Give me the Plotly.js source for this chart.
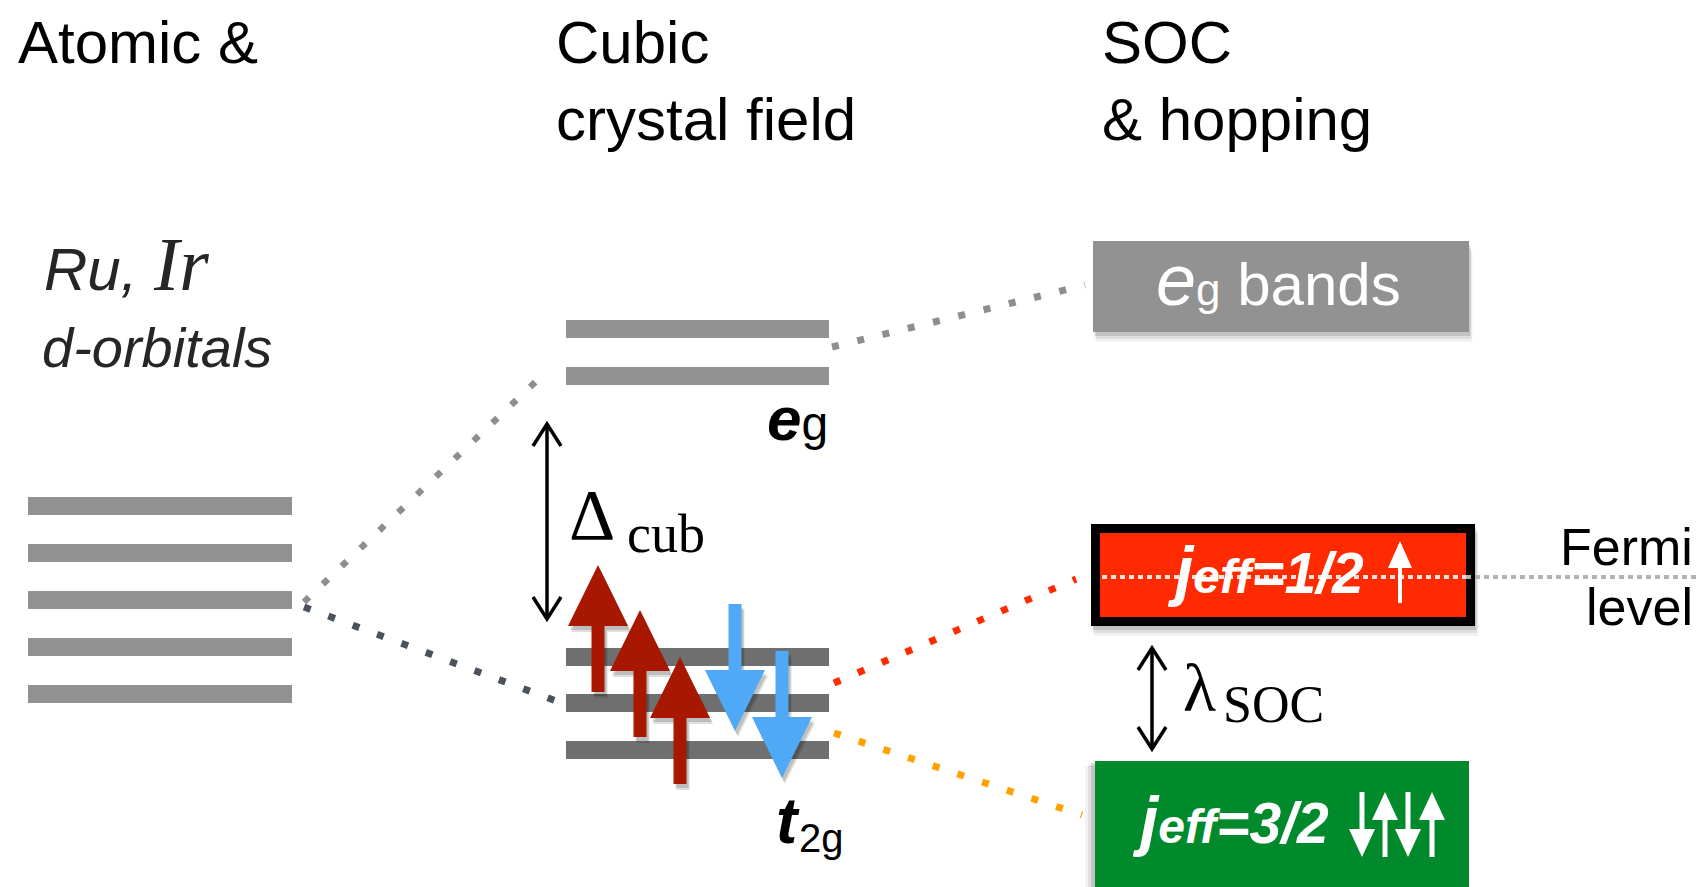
<!DOCTYPE html>
<html>
<head>
<meta charset="utf-8">
<script src="https://cdn.plot.ly/plotly-3.0.1.min.js"></script>
<style>html,body{margin:0;padding:0;background:#fff;overflow:hidden;}</style>
</head>
<body>
<div id="chart" style="width:1698px;height:887px;"></div>
<script>
// ---------------- diagram values ----------------
const atomicLevels = [506, 553, 600, 647, 694];   // five d levels
const egLevels = [329, 376];                       // e_g doublet
const t2gLevels = [657, 703, 750];                 // t_2g triplet
const spinUpX = [598, 640, 680];                   // three spin-up electrons
const spinUpTip = [565, 610, 657];
const spinDownX = [735, 782];                      // two spin-down electrons
const spinDownTop = [604, 651];
const jeff32Spins = ['down', 'up', 'down', 'up'];
const jeff32SpinX = [1362, 1385, 1408, 1432];
const columnTitles = [['Atomic &'], ['Cubic', 'crystal field'], ['SOC', '& hopping']];
const columnTitleX = [17, 555, 1101];

// ---------------- styling / layout constants ----------------
const W = 1698, H = 887;
const SANS = '"Liberation Sans", Arial, Helvetica, sans-serif';
const SERIF = '"Liberation Serif", "Times New Roman", serif';
const LEVEL_HALF = 9;
const atomicSpan = [28, 292];
const cubicSpan = [566, 829];
const DOT = '7px,19px';

const shapes = [];
const annotations = [];

function rect(x0, x1, y0, y1, fill, extra) {
  shapes.push(Object.assign({type: 'rect', xref: 'x', yref: 'y', x0, x1, y0, y1,
    fillcolor: fill, line: {width: 0}}, extra || {}));
}
function seg(x0, y0, x1, y1, color, width, dash) {
  shapes.push({type: 'line', xref: 'x', yref: 'y', x0, y0, x1, y1,
    line: {color, width, dash: dash || 'solid'}});
}
function path(d, fill, lineColor, lineWidth) {
  shapes.push({type: 'path', xref: 'x', yref: 'y', path: d,
    fillcolor: fill || 'rgba(0,0,0,0)',
    line: {color: lineColor || 'rgba(0,0,0,0)', width: lineWidth || 0}});
}
function upArrow(cx, tip, len, head, hw, sw) {
  const base = tip + head, tail = tip + len;
  return `M${cx - sw},${tail} L${cx - sw},${base} L${cx - hw},${base} L${cx},${tip} L${cx + hw},${base} L${cx + sw},${base} L${cx + sw},${tail} Z`;
}
function downArrow(cx, top, len, head, hw, sw) {
  const tip = top + len, base = tip - head;
  return `M${cx - sw},${top} L${cx - sw},${base} L${cx - hw},${base} L${cx},${tip} L${cx + hw},${base} L${cx + sw},${base} L${cx + sw},${top} Z`;
}
function doubleArrow(cx, top, bottom) {
  seg(cx, top + 2, cx, bottom - 2, '#000', 3.5);
  path(`M${cx - 14},${top + 23} L${cx},${top + 1} L${cx + 14},${top + 23}`, null, '#000', 3.5);
  path(`M${cx - 14},${bottom - 23} L${cx},${bottom - 1} L${cx + 14},${bottom - 23}`, null, '#000', 3.5);
}
function txt(text, x, y, size, opt) {
  opt = opt || {};
  annotations.push({
    xref: 'x', yref: 'y', x, y, text, showarrow: false,
    xanchor: opt.xanchor || 'left', yanchor: 'middle', borderpad: 0,
    font: {family: opt.family || SANS, size, color: opt.color || '#000',
           style: opt.italic ? 'italic' : 'normal', weight: opt.bold ? 'bold' : 'normal'}
  });
}

// ---------------- dotted connectors ----------------
seg(304, 602, 548, 370, '#8e8e8e', 6.5, DOT);
seg(304, 607, 567, 705, '#4a525c', 7, DOT);
seg(832, 347, 1085, 285, '#8e8e8e', 7, DOT);
seg(834, 683, 1076, 579, '#ff2a00', 7, DOT);
seg(834, 733, 1082, 815, '#ffa200', 7, DOT);

// ---------------- energy levels ----------------
atomicLevels.forEach(y => rect(atomicSpan[0], atomicSpan[1], y - LEVEL_HALF, y + LEVEL_HALF, '#929292'));
egLevels.forEach(y => rect(cubicSpan[0], cubicSpan[1], y - LEVEL_HALF, y + LEVEL_HALF, '#929292'));
t2gLevels.forEach(y => rect(cubicSpan[0], cubicSpan[1], y - LEVEL_HALF, y + LEVEL_HALF, '#6f6f6f'));

// ---------------- band boxes (with soft shadows) ----------------
[[10, 0.05], [7, 0.08], [4, 0.12]].forEach(([o, a]) => {
  rect(1093 + o / 3, 1469 + o / 3, 241 + o, 332 + o, `rgba(0,0,0,${a})`);
  rect(1091 + o / 3, 1475 + o / 3, 524 + o, 626 + o, `rgba(0,0,0,${a})`);
  rect(1095 - o, 1469, 761 + o / 2, 900, `rgba(0,0,0,${a})`);
});
rect(1093, 1469, 241, 332, '#929292');
rect(1091, 1475, 524, 626, '#000000');
rect(1100, 1466, 533, 617, '#ff2a00');
rect(1095, 1469, 761, 900, '#008a2c');

// Fermi level
seg(1102, 577, 1466, 577, 'rgba(235,235,235,0.95)', 4, '5px,4px');
seg(1466, 577, 1698, 577, '#b3b3b3', 4, '5px,4px');

// ---------------- electrons ----------------
const SP = {len: 127, head: 61, hw: 30, sw: 6.5};
spinUpX.forEach((x, i) => {
  path(upArrow(x + 3, spinUpTip[i] + 6, SP.len, SP.head, SP.hw, SP.sw), 'rgba(0,0,0,0.13)');
  path(upArrow(x + 2, spinUpTip[i] + 4, SP.len, SP.head, SP.hw, SP.sw), 'rgba(0,0,0,0.15)');
});
spinDownX.forEach((x, i) => {
  path(downArrow(x + 3, spinDownTop[i] + 6, SP.len, SP.head, SP.hw, SP.sw), 'rgba(0,0,0,0.12)');
  path(downArrow(x + 2, spinDownTop[i] + 4, SP.len, SP.head, SP.hw, SP.sw), 'rgba(0,0,0,0.14)');
});
spinUpX.forEach((x, i) => path(upArrow(x, spinUpTip[i], SP.len, SP.head, SP.hw, SP.sw), '#a81800'));
spinDownX.forEach((x, i) => path(downArrow(x, spinDownTop[i], SP.len, SP.head, SP.hw, SP.sw), '#4fa9f7'));

// white spins inside boxes
path(upArrow(1400, 541, 62, 27, 12, 2), '#ffffff');
jeff32Spins.forEach((d, i) => {
  const x = jeff32SpinX[i];
  path(d === 'up' ? upArrow(x, 792, 65, 28, 13, 2.5) : downArrow(x, 792, 65, 28, 13, 2.5), '#ffffff');
});

// energy-gap double arrows
doubleArrow(547, 423, 620);
doubleArrow(1152, 647, 750);

// ---------------- text ----------------
columnTitles.forEach((lines, i) => {
  lines.forEach((t, j) => txt(t, columnTitleX[i], 42 + 77 * j, 60));
});
txt('Ru, <span style="font-family:Liberation Serif;font-size:76px">Ir</span>', 43, 264, 60, {italic: true, color: '#262626'});
txt('d-orbitals', 41, 347, 56, {italic: true, color: '#262626'});

txt('<b><i>e</i></b><span style="font-size:48px">g</span>', 766, 418, 62);
txt('<b><i>t</i></b>', 775, 821, 64);
txt('2g', 798, 838, 40);

txt('\u0394', 568, 515, 72, {family: SERIF});
txt('cub', 626, 534, 54, {family: SERIF});
txt('\u03bb', 1182, 688, 68, {family: SERIF});
txt('SOC', 1222, 704, 52, {family: SERIF});

txt('<i><span style="font-size:72px">e</span></i><span style="font-size:44px">g</span> bands', 1155, 280, 60, {color: '#fff'});

txt('<b><i>j<span style="font-size:48px">eff</span><span style="font-size:57px">=1/2</span></i></b>', 1166, 570, 66, {color: '#fff'});
txt('<b><i>j<span style="font-size:48px">eff</span><span style="font-size:57px">=3/2</span></i></b>', 1131, 820, 66, {color: '#fff'});

txt('Fermi', 1694, 547, 52, {xanchor: 'right'});
txt('level', 1694, 607, 52, {xanchor: 'right'});

// ---------------- plot ----------------
const trace = {x: [0, W], y: [0, H], mode: 'markers', marker: {opacity: 0}, hoverinfo: 'skip', showlegend: false};
const layout = {
  width: W, height: H,
  margin: {l: 0, r: 0, t: 0, b: 0, pad: 0},
  paper_bgcolor: '#ffffff', plot_bgcolor: '#ffffff',
  xaxis: {range: [0, W], visible: false, fixedrange: true},
  yaxis: {range: [H, 0], visible: false, fixedrange: true},
  shapes, annotations, showlegend: false
};
Plotly.newPlot('chart', [trace], layout, {displayModeBar: false, staticPlot: true});
</script>
</body>
</html>
